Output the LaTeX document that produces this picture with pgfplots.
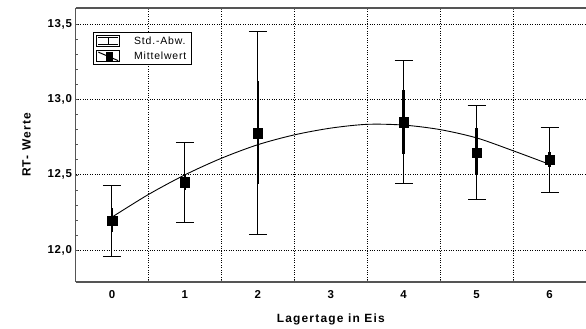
\documentclass[border=0pt]{standalone}
\usepackage{fontspec}
\setmainfont{Liberation Sans}
\usepackage{pgfplots}
\pgfplotsset{compat=1.18}
\usepackage{pgfplotstable}
\definecolor{axgray}{RGB}{85,85,85}

\pgfplotstableread{
x y e
0 12.195 0.235
1 12.450 0.265
2 12.778 0.672
4 12.850 0.410
5 12.647 0.313
6 12.600 0.217
}\outer
\pgfplotstableread{
x y e
0 12.20 0.08
1 12.45 0.05
2 12.78 0.34
4 12.85 0.21
5 12.655 0.155
6 12.60 0.05
}\inner
\pgfplotstableread{
x y
0 12.22
0.5 12.37
1 12.50
1.5 12.61
2 12.70
2.5 12.765
3 12.81
3.5 12.835
4 12.83
4.5 12.80
5 12.745
5.5 12.66
6 12.57
}\curve

\begin{document}
\begin{tikzpicture}[x=1bp,y=1bp]
\begin{axis}[
  at={(75.5bp,46bp)}, anchor=south west,
  scale only axis, width=510.5bp, height=274bp,
  xmin=-0.5, xmax=6.5, ymin=11.79, ymax=13.606,
  axis x line*=box, axis y line*=left,
  axis line style={axgray, line width=1.2pt},
  xtick={0,...,6},
  minor xtick={0.5,1.5,...,5.5},
  ytick={12,12.5,13,13.5},
  minor y tick num=4,
  major x tick style={draw=none},
  minor tick length=2.5pt, major tick length=3pt,
  tick align=inside,
  tick style={axgray, line width=0.6pt},
  ymajorgrids, xminorgrids,
  major grid style={black, dotted, line width=0.8pt},
  minor grid style={black, dotted, line width=0.8pt},
  /pgf/number format/assume math mode=true,
  yticklabel style={/pgf/number format/.cd, use comma, fixed, fixed zerofill, precision=1},
  xticklabel style={yshift=-5bp},
  tick label style={font=\fontsize{11.5}{13}\selectfont\bfseries\addfontfeature{LetterSpace=6}},
  xlabel={Lagertage in Eis},
  ylabel={RT- Werte},
  label style={font=\fontsize{12}{14}\selectfont\bfseries\addfontfeature{LetterSpace=10}},
  xlabel style={yshift=-8bp},
  ylabel style={yshift=10bp},
  clip=false,
  legend cell align=left,
  legend style={at={(0.0343,0.912)}, anchor=north west, draw=black, line width=0.8pt,
    font=\fontsize{10.5}{12}\selectfont\addfontfeature{LetterSpace=8},
    inner xsep=3pt, inner ysep=2pt, row sep=2pt,
    /tikz/column 1/.style={column sep=12bp}},
]
\addplot[only marks, mark=none, black, line width=1pt,
  legend image code/.code={
    \path (-0.05cm,0.2cm) rectangle (0.75cm,-0.2cm);
    \draw[black, line width=1pt] (0cm,0.13cm) -- (0.7cm,0.13cm);
    \draw[black, line width=1pt] (0cm,-0.13cm) -- (0.7cm,-0.13cm);
    \draw[black, line width=1pt] (0.35cm,0.13cm) -- (0.35cm,-0.13cm);
  },
  error bars/.cd, y dir=both, y explicit,
  error mark=-, error mark options={black, line width=1pt, mark size=9bp, rotate=90},
  error bar style={black, line width=1pt}]
  table[x=x, y=y, y error=e] {\outer};
\addlegendentry{Std.-Abw.}
\addplot[only marks, mark=none, forget plot,
  error bars/.cd, y dir=both, y explicit, error mark=none,
  error bar style={black, line width=2.6pt}]
  table[x=x, y=y, y error=e] {\inner};
\addplot[smooth, black, line width=0.9pt, forget plot] table[x=x, y=y] {\curve};
\addplot[only marks, mark=square*, mark size=4.8bp, black, mark options={draw=none, fill=black},
  legend image code/.code={
    \path (-0.05cm,0.2cm) rectangle (0.75cm,-0.2cm);
    \draw[black, line width=1pt] (0cm,0.14cm) -- (0.7cm,-0.16cm);
    \fill[black] (0.27cm,-0.14cm) rectangle (0.5cm,0.12cm);
  }]
  table[x=x, y=y] {\outer};
\addlegendentry{Mittelwert}
\end{axis}
\pgfresetboundingbox
\useasboundingbox (0,0) rectangle (586,328);
\end{tikzpicture}
\end{document}
